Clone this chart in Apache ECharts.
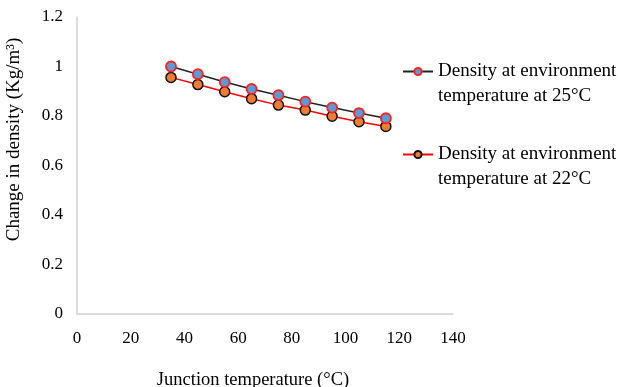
<!DOCTYPE html>
<html>
<head>
<meta charset="utf-8">
<script src="https://cdn.jsdelivr.net/npm/echarts@6/dist/echarts.min.js"></script>
<style>html,body{margin:0;padding:0;background:#fff}#c{width:618px;height:387px}</style>
</head>
<body>
<div id="c"></div>
<script>
const junctionTemps = [35, 45, 55, 65, 75, 85, 95, 105, 115];
const density25 = [1.0, 0.969, 0.937, 0.909, 0.884, 0.858, 0.834, 0.812, 0.791];
const density22 = [0.956, 0.927, 0.898, 0.870, 0.844, 0.824, 0.799, 0.777, 0.758];
const seriesNames = ['Density at environment\ntemperature at 25°C', 'Density at environment\ntemperature at 22°C'];
const xTitle = 'Junction temperature (°C)';
const yTitle = 'Change in density (Kg/m³)';

const font = 'Liberation Serif, Times New Roman, serif';
const chart = echarts.init(document.getElementById('c'));
chart.setOption({
  animation: false,
  backgroundColor: '#fff',
  grid: {left: 77, right: 165, top: 17, bottom: 73, outerBoundsMode: 'none', containLabel: false},
  legend: {
    orient: 'vertical', left: 397, top: 29, itemGap: 8,
    itemWidth: 30, itemHeight: 9,
    formatter: name => ' \n' + name,
    textStyle: {fontFamily: font, fontSize: 19, color: '#000', lineHeight: 25},
    data: seriesNames
  },
  xAxis: {
    type: 'value', min: 0, max: 140, interval: 20,
    name: xTitle, nameLocation: 'middle', nameGap: 57,
    nameTextStyle: {fontFamily: font, fontSize: 18.5, color: '#000', padding: [0, 24, 0, 0]},
    axisLine: {show: true, lineStyle: {color: '#d0d0d0', width: 1.5}},
    axisTick: {show: false}, splitLine: {show: false},
    axisLabel: {fontFamily: font, fontSize: 17, color: '#000', margin: 16}
  },
  yAxis: {
    type: 'value', min: 0, max: 1.2, interval: 0.2,
    name: yTitle, nameLocation: 'middle', nameGap: 53,
    nameTextStyle: {fontFamily: font, fontSize: 19, color: '#000', padding: [0, 0, 0, 52]},
    axisLine: {show: true, lineStyle: {color: '#d0d0d0', width: 1.5}},
    axisTick: {show: false}, splitLine: {show: false},
    axisLabel: {fontFamily: font, fontSize: 17, color: '#000', margin: 14}
  },
  series: [
    {
      name: seriesNames[0], type: 'line',
      data: junctionTemps.map((x, i) => [x, density25[i]]),
      symbol: 'circle', symbolSize: 10,
      lineStyle: {color: '#222', width: 1.5},
      itemStyle: {color: '#5b9bd5', borderColor: '#ff2020', borderWidth: 1.8},
      z: 3
    },
    {
      name: seriesNames[1], type: 'line',
      data: junctionTemps.map((x, i) => [x, density22[i]]),
      symbol: 'circle', symbolSize: 10,
      lineStyle: {color: '#ff0000', width: 1.5},
      itemStyle: {color: '#ed7d31', borderColor: '#111', borderWidth: 1.5},
      z: 2
    }
  ]
});
</script>
</body>
</html>
